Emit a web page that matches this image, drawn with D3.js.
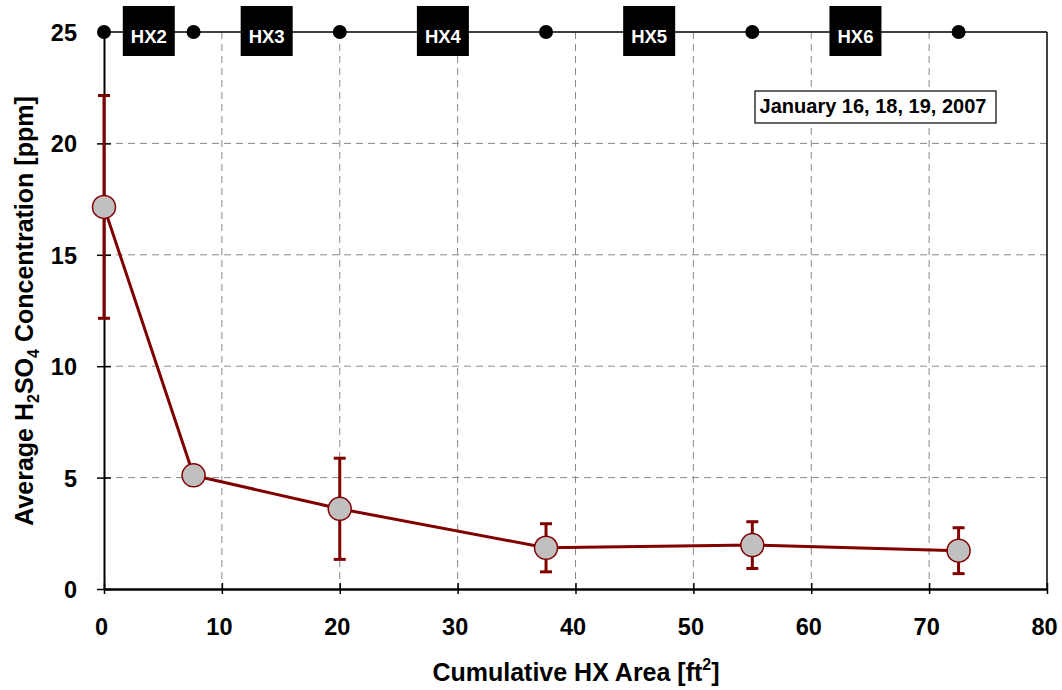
<!DOCTYPE html>
<html>
<head>
<meta charset="utf-8">
<script src="https://cdn.jsdelivr.net/npm/d3@7"></script>
<style>
  html, body { margin: 0; padding: 0; background: #fff; }
  svg { display: block; font-family: "Liberation Sans", Arial, sans-serif; }
</style>
</head>
<body>
<svg id="chart" width="1062" height="690"></svg>
<script>
// Cumulative heat-exchanger area after each HX stage [ft^2]
const hxArea = [0.0, 7.6, 20.0, 37.5, 55.0, 72.5];
// Average H2SO4 concentration at each sampling point [ppm]
const h2so4 = [17.15, 5.1, 3.6, 1.85, 1.97, 1.72];
// Standard deviation of the measurements [ppm]
const h2so4Err = [5.0, 0, 2.27, 1.08, 1.05, 1.03];
// Heat exchanger names, each sitting between two sampling points
const hxNames = ["HX2", "HX3", "HX4", "HX5", "HX6"];
// Axis ticks
const xTicks = [0, 10, 20, 30, 40, 50, 60, 70, 80];
const yTicks = [0, 5, 10, 15, 20, 25];
const dateLabel = "January 16, 18, 19, 2007";

const svg = d3.select("#chart");
const plotLeft = 104, plotRight = 1047, plotTop = 32, plotBottom = 589;

const x = d3.scaleLinear().domain([0, 80]).range([plotLeft, plotRight]);
const y = d3.scaleLinear().domain([0, 25]).range([plotBottom, plotTop]);

const red = "#800000";
const tickFont = 23.5;

// Dashed grid
const grid = svg.append("g").attr("stroke", "#888").attr("stroke-width", 1)
  .attr("stroke-dasharray", "7,5");
grid.selectAll("line.v").data(xTicks.filter(d => d > 0 && d < 80)).join("line")
  .attr("class", "v")
  .attr("x1", d => x(d)).attr("x2", d => x(d))
  .attr("y1", y(25)).attr("y2", y(0));
grid.selectAll("line.h").data(yTicks.filter(d => d > 0 && d < 25)).join("line")
  .attr("class", "h")
  .attr("x1", x(0)).attr("x2", x(80))
  .attr("y1", d => y(d)).attr("y2", d => y(d));

// Frame: top flow line, right edge
svg.append("line").attr("x1", x(0)).attr("x2", x(80)).attr("y1", y(25)).attr("y2", y(25))
  .attr("stroke", "#000").attr("stroke-width", 1.5);
svg.append("line").attr("x1", x(80)).attr("x2", x(80)).attr("y1", y(25)).attr("y2", y(0))
  .attr("stroke", "#000").attr("stroke-width", 1.5);

// Axes
const xAxis = d3.axisBottom(x).tickValues(xTicks).tickSize(0).tickFormat(d3.format("d"));
const gx = svg.append("g").attr("transform", `translate(0,${plotBottom})`).call(xAxis);
gx.select(".domain").attr("stroke", "#000").attr("stroke-width", 2.5);
gx.selectAll(".tick text").attr("dy", 0).attr("y", 46).attr("x", -3)
  .attr("font-size", tickFont).attr("font-weight", "bold").attr("fill", "#000")
  .attr("font-family", "Liberation Sans, Arial, sans-serif");
gx.selectAll(".tick").append("line").attr("y1", -6).attr("y2", 5)
  .attr("stroke", "#000").attr("stroke-width", 1.5);

const yAxis = d3.axisLeft(y).tickValues(yTicks).tickSize(0).tickFormat(d3.format("d"));
const gy = svg.append("g").attr("transform", `translate(${plotLeft},0)`).call(yAxis);
gy.select(".domain").attr("stroke", "#000").attr("stroke-width", 2);
gy.selectAll(".tick text").attr("x", -27).attr("dy", "0.36em")
  .attr("font-size", tickFont).attr("font-weight", "bold").attr("fill", "#000")
  .attr("font-family", "Liberation Sans, Arial, sans-serif");
gy.selectAll(".tick").filter(d => d < 25).append("line").attr("x1", -7).attr("x2", 7)
  .attr("stroke", "#000").attr("stroke-width", 1.5);

// Sampling points on the flow line
svg.append("g").selectAll("circle").data(hxArea).join("circle")
  .attr("cx", d => x(d)).attr("cy", y(25)).attr("r", 7).attr("fill", "#000");

// Heat exchanger boxes
const hx = svg.append("g").selectAll("g").data(hxNames).join("g")
  .attr("transform", (d, i) => `translate(${x((hxArea[i] + hxArea[i + 1]) / 2)},${y(25)})`);
hx.append("rect").attr("x", -26).attr("y", -26).attr("width", 52).attr("height", 50).attr("fill", "#000");
hx.append("text").text(d => d).attr("text-anchor", "middle").attr("y", 11)
  .attr("fill", "#fff").attr("font-size", 18.5).attr("font-weight", "bold");

// Date label
const dl = svg.append("g");
dl.append("rect").attr("x", 755).attr("y", 91).attr("width", 241).attr("height", 32)
  .attr("fill", "#fff").attr("stroke", "#000").attr("stroke-width", 1.2);
dl.append("text").text(dateLabel).attr("x", 873).attr("y", 113).attr("text-anchor", "middle")
  .attr("font-size", 20).attr("font-weight", "bold").attr("fill", "#000");

// Error bars
const eb = svg.append("g").attr("stroke", red).attr("stroke-width", 3);
const withErr = hxArea.map((d, i) => i).filter(i => h2so4Err[i] > 0);
eb.selectAll("line.bar").data(withErr).join("line").attr("class", "bar")
  .attr("x1", i => x(hxArea[i])).attr("x2", i => x(hxArea[i]))
  .attr("y1", i => y(h2so4[i] + h2so4Err[i])).attr("y2", i => y(h2so4[i] - h2so4Err[i]));
eb.selectAll("line.capHi").data(withErr).join("line").attr("class", "capHi")
  .attr("x1", i => x(hxArea[i]) - 6).attr("x2", i => x(hxArea[i]) + 6)
  .attr("y1", i => y(h2so4[i] + h2so4Err[i])).attr("y2", i => y(h2so4[i] + h2so4Err[i]));
eb.selectAll("line.capLo").data(withErr).join("line").attr("class", "capLo")
  .attr("x1", i => x(hxArea[i]) - 6).attr("x2", i => x(hxArea[i]) + 6)
  .attr("y1", i => y(h2so4[i] - h2so4Err[i])).attr("y2", i => y(h2so4[i] - h2so4Err[i]));

// Concentration line and markers
const pts = hxArea.map((d, i) => [d, h2so4[i]]);
svg.append("path").datum(pts)
  .attr("d", d3.line().x(d => x(d[0])).y(d => y(d[1])))
  .attr("fill", "none").attr("stroke", red).attr("stroke-width", 3);
svg.append("g").selectAll("circle").data(pts).join("circle")
  .attr("cx", d => x(d[0])).attr("cy", d => y(d[1])).attr("r", 11.5)
  .attr("fill", "#c0c0c0").attr("stroke", red).attr("stroke-width", 1.5);

// Axis titles
const xt = svg.append("text").attr("x", 576).attr("y", 681)
  .attr("text-anchor", "middle").attr("font-size", 25).attr("font-weight", "bold");
xt.append("tspan").text("Cumulative HX Area [ft");
xt.append("tspan").text("2").attr("font-size", 16).attr("dy", -11);
xt.append("tspan").text("]").attr("dy", 11);

const yt = svg.append("text").attr("transform", `translate(33,311) rotate(-90)`)
  .attr("text-anchor", "middle").attr("font-size", 25).attr("font-weight", "bold");
yt.append("tspan").text("Average H");
yt.append("tspan").text("2").attr("font-size", 16).attr("dy", 6);
yt.append("tspan").text("SO").attr("dy", -6);
yt.append("tspan").text("4").attr("font-size", 16).attr("dy", 6);
yt.append("tspan").text(" Concentration [ppm]").attr("dy", -6);
</script>
</body>
</html>
